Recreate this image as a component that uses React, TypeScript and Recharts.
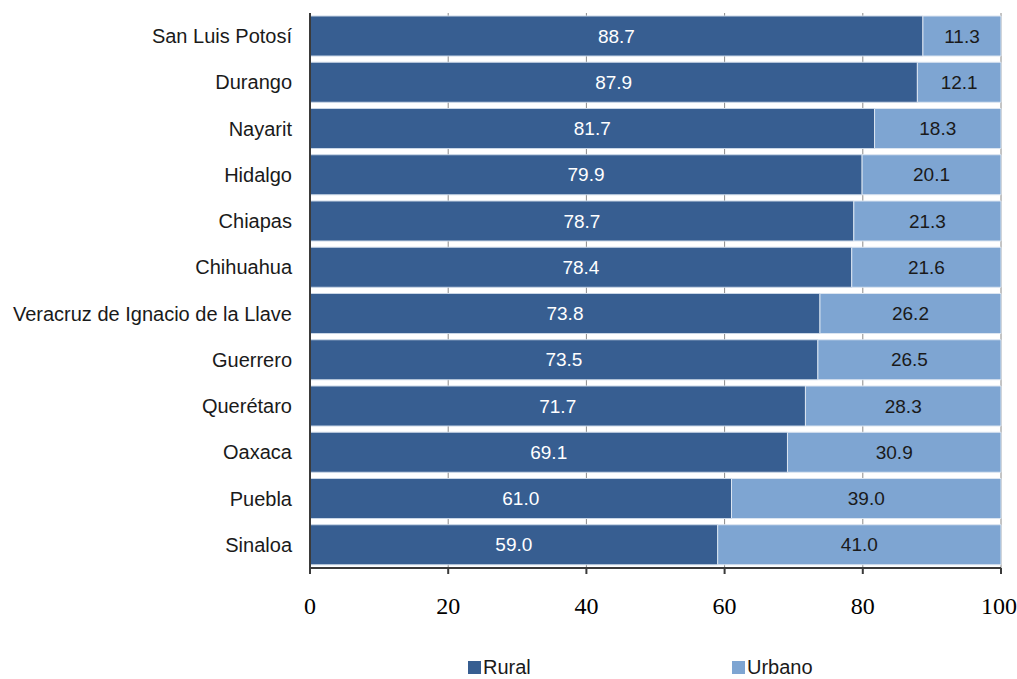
import React from 'react';
import { BarChart, Bar, XAxis, YAxis, CartesianGrid, LabelList, Legend } from 'recharts';

const states = [
  'San Luis Potosí', 'Durango', 'Nayarit', 'Hidalgo', 'Chiapas', 'Chihuahua',
  'Veracruz de Ignacio de la Llave', 'Guerrero', 'Querétaro', 'Oaxaca', 'Puebla', 'Sinaloa',
];
const rural = [88.7, 87.9, 81.7, 79.9, 78.7, 78.4, 73.8, 73.5, 71.7, 69.1, 61.0, 59.0];
const urbano = [11.3, 12.1, 18.3, 20.1, 21.3, 21.6, 26.2, 26.5, 28.3, 30.9, 39.0, 41.0];
const xTicks = [0, 20, 40, 60, 80, 100];

const RURAL_COLOR = '#375E91';
const URBANO_COLOR = '#7EA5D2';

const data = states.map((s, i) => ({ name: s, rural: rural[i], urbano: urbano[i] }));

const fmt = (v: any) => Number(v).toFixed(1);

const LegendContent = () => (
  <div style={{ position: 'relative', height: 40, fontFamily: 'Liberation Sans, Arial, sans-serif', fontSize: 20, color: '#1a1a1a' }}>
    <div style={{ position: 'absolute', left: 468, top: 6, display: 'flex', alignItems: 'center' }}>
      <span style={{ display: 'inline-block', width: 13, height: 13, background: RURAL_COLOR, marginRight: 2 }} />
      <span>Rural</span>
    </div>
    <div style={{ position: 'absolute', left: 732, top: 6, display: 'flex', alignItems: 'center' }}>
      <span style={{ display: 'inline-block', width: 13, height: 13, background: URBANO_COLOR, marginRight: 2 }} />
      <span>Urbano</span>
    </div>
  </div>
);

export default function App() {
  return (
    <div style={{ position: 'absolute', left: 0, top: 0, background: '#fff' }}>
      <BarChart
        width={1017}
        height={679}
        data={data}
        layout="vertical"
        margin={{ top: 13, right: 16, bottom: 21, left: 0 }}
        barCategoryGap={3}
      >
        <CartesianGrid horizontal={false} vertical={true} stroke="#8a8a8a" strokeWidth={1} />
        <XAxis
          type="number"
          domain={[0, 100]}
          ticks={xTicks}
          height={50}
          axisLine={{ stroke: '#3a3a3a', strokeWidth: 2 }}
          tickLine={{ stroke: '#3a3a3a', strokeWidth: 2 }}
          tickSize={6}
          tickMargin={23}
          tick={{ fill: '#000', fontSize: 24, fontFamily: 'Liberation Serif, Times New Roman, serif' }}
        />
        <YAxis
          type="category"
          dataKey="name"
          width={310}
          axisLine={{ stroke: '#3a3a3a', strokeWidth: 2 }}
          tickLine={false}
          tickMargin={12}
          interval={0}
          tick={{ fill: '#1a1a1a', fontSize: 20, fontFamily: 'Liberation Sans, Arial, sans-serif' }}
        />
        <Legend content={<LegendContent />} verticalAlign="bottom" wrapperStyle={{ top: 650, left: 0, width: 1017, height: 40 }} />
        <Bar dataKey="rural" name="Rural" stackId="a" fill={RURAL_COLOR} stroke="#c9d6e6" strokeWidth={1} isAnimationActive={false}>
          <LabelList dataKey="rural" position="center" formatter={fmt} fill="#ffffff" fontSize={19} fontFamily="Liberation Sans, Arial, sans-serif" />
        </Bar>
        <Bar dataKey="urbano" name="Urbano" stackId="a" fill={URBANO_COLOR} stroke="#dbe5f1" strokeWidth={1} isAnimationActive={false}>
          <LabelList dataKey="urbano" position="center" formatter={fmt} fill="#1a1a1a" fontSize={19} fontFamily="Liberation Sans, Arial, sans-serif" />
        </Bar>
      </BarChart>
    </div>
  );
}
